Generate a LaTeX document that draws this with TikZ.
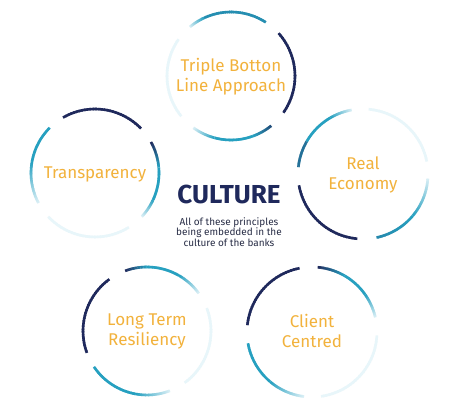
\documentclass[tikz,border=0pt]{standalone}
\usepackage{fontspec}
\setmainfont{Fira Sans}
\definecolor{navy}{RGB}{31,41,92}
\definecolor{tealc}{RGB}{38,160,192}
\definecolor{lightc}{RGB}{215,238,245}
\definecolor{faintc}{RGB}{232,246,250}
\definecolor{orangec}{RGB}{242,178,60}
\definecolor{textdark}{RGB}{40,45,70}
\newcommand{\garc}[7]{%
  \foreach \k in {0,...,29}{%
    \pgfmathsetmacro{\aa}{#4+(#5-#4)*\k/30}%
    \pgfmathsetmacro{\bb}{#4+(#5-#4)*min(\k+1.4,30)/30}%
    \pgfmathtruncatemacro{\pp}{100-100*\k/29}%
    \draw[ringline, color=#6!\pp!#7] (#1,#2) ++(\aa:#3) arc[start angle=\aa, end angle=\bb, radius=#3];
  }}
\begin{document}
\begin{tikzpicture}[x=1pt,y=1pt,
  ringline/.style={line width=2.6pt},
  label/.style={text=orangec, align=center, font=\fontsize{17}{20}\selectfont, inner sep=0pt}]
\useasboundingbox[fill=white] (0,0) rectangle (459,407);
% top circle (231,331) r64
\coordinate (ctop) at (231,331);
\garc{231}{331}{64}{130}{115}{lightc}{tealc}
\garc{231}{331}{64}{115}{57}{tealc}{tealc!85!navy}
\garc{231}{331}{64}{42}{-35}{navy}{navy}
\garc{231}{331}{64}{-51}{-70}{navy!70!tealc}{tealc}
\garc{231}{331}{64}{-70}{-105}{tealc}{tealc}
\garc{231}{331}{64}{-105}{-126}{tealc}{lightc}
\garc{231}{331}{64}{145}{219}{faintc}{faintc}
% left circle (95,234) r64
\coordinate (cleft) at (95,234);
\garc{95}{234}{64}{120}{44}{navy}{navy}
\garc{95}{234}{64}{29}{5}{navy}{tealc}
\garc{95}{234}{64}{5}{-25}{tealc}{tealc}
\garc{95}{234}{64}{-25}{-43}{tealc}{lightc}
\garc{95}{234}{64}{-58}{-137}{faintc}{faintc}
\garc{95}{234}{64}{135}{170}{tealc}{tealc}
\garc{95}{234}{64}{170}{208}{tealc}{lightc}
% right circle (363,233) r65
\coordinate (cright) at (363,233);
\garc{363}{233}{65}{100}{120}{lightc}{tealc}
\garc{363}{233}{65}{120}{150}{tealc}{tealc}
\garc{363}{233}{65}{150}{174}{tealc}{tealc!60!navy}
\garc{363}{233}{65}{190}{265}{navy}{navy}
\garc{363}{233}{65}{-78}{-40}{tealc!80!navy}{tealc}
\garc{363}{233}{65}{-40}{-4}{tealc}{lightc}
\garc{363}{233}{65}{11}{85}{faintc}{faintc}
% bottom-left circle (147,76) r64
\coordinate (cbl) at (147,76);
\garc{147}{76}{64}{110}{90}{navy}{tealc}
\garc{147}{76}{64}{90}{60}{tealc}{tealc}
\garc{147}{76}{64}{60}{36}{tealc}{lightc}
\garc{147}{76}{64}{126}{200}{navy}{navy}
\garc{147}{76}{64}{214}{260}{tealc}{tealc}
\garc{147}{76}{64}{260}{291}{tealc}{lightc}
\garc{147}{76}{64}{-54}{21}{faintc}{faintc}
% bottom-right circle (312,75) r65
\coordinate (cbr) at (312,75);
\garc{312}{75}{65}{101}{174}{navy}{navy}
\garc{312}{75}{65}{85}{60}{navy}{tealc}
\garc{312}{75}{65}{60}{35}{tealc}{tealc}
\garc{312}{75}{65}{35}{13}{tealc}{lightc}
\garc{312}{75}{65}{190}{230}{tealc}{tealc}
\garc{312}{75}{65}{230}{263}{tealc}{lightc}
\garc{312}{75}{65}{-3}{-82}{faintc}{faintc}
% labels
\node[label] (ttop) at (231,330) {Triple Botton\\Line Approach};
\node[label] (tleft) at (95,233) {Transparency};
\node[label] (tright) at (363,232) {Real\\Economy};
\node[label] (tbl) at (147,76) {Long Term\\Resiliency};
\node[label] (tbr) at (312,76) {Client\\Centred};
\node[text=navy, font=\fontsize{26}{26}\selectfont\bfseries, inner sep=0pt] (culture) at (229,213) {CULTURE};
\node[text=textdark, align=center, font=\fontsize{10}{10.5}\selectfont, inner sep=0pt] (desc) at (229,175) {All of these principles\\being embedded in the\\culture of the banks};
\end{tikzpicture}
\end{document}
